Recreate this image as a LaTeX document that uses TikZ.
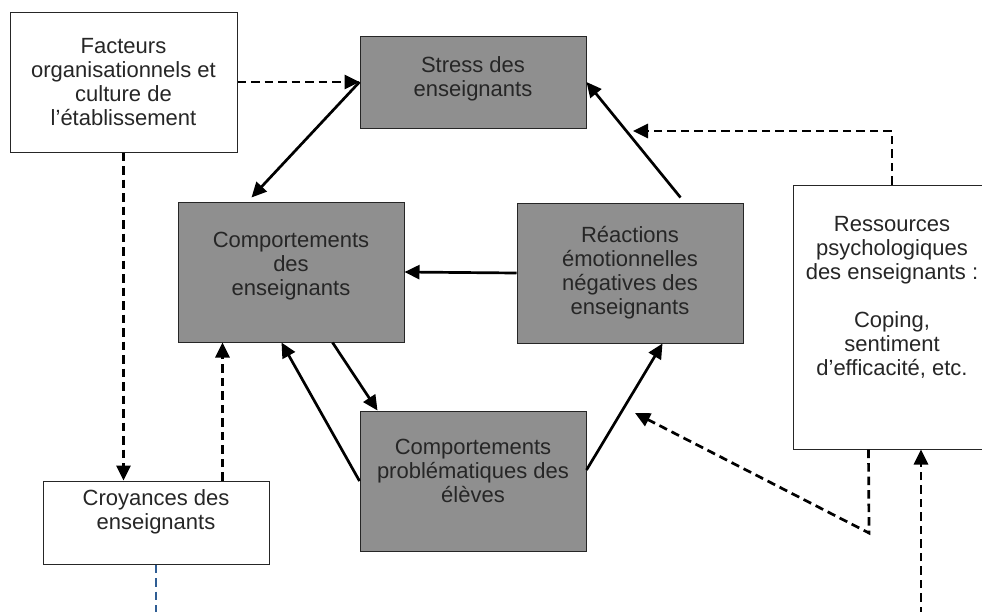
\documentclass[tikz,border=0pt]{standalone}
\usepackage{fontspec}
\setmainfont{Liberation Sans}
\usetikzlibrary{arrows.meta}
\definecolor{boxgray}{RGB}{143,143,143}
\definecolor{linkblue}{RGB}{47,93,148}
\begin{document}
\begin{tikzpicture}[x=1pt,y=-1pt,
  box/.style={draw=black!85, line width=1pt, rectangle, inner sep=0pt},
  graybox/.style={box, fill=boxgray},
  whitebox/.style={box, fill=white},
  txt/.style={align=center, inner sep=0pt, font=\fontsize{22}{24}\selectfont, text=black!85},
  link/.style={line width=2.7pt, -{Triangle[length=15pt,width=14pt]}},
  dlink/.style={link, dash pattern=on 8.5pt off 5pt},
  dline/.style={line width=2.7pt, dash pattern=on 8.5pt off 5pt},
]
\useasboundingbox (0,0) rectangle (982,611);
\clip (0,0) rectangle (982,611);

% boxes
\node[whitebox, minimum width=227pt, minimum height=140pt] (fact) at (123.5,82) {};
\node[graybox, minimum width=226pt, minimum height=92pt] (stress) at (473,82) {};
\node[graybox, minimum width=226pt, minimum height=140pt] (comp) at (291,272) {};
\node[graybox, minimum width=226pt, minimum height=140pt] (reac) at (630,273) {};
\node[graybox, minimum width=226pt, minimum height=140pt] (prob) at (473,481) {};
\node[whitebox, minimum width=226pt, minimum height=83pt] (croy) at (156,522.5) {};
\node[whitebox, minimum width=198pt, minimum height=264pt] (res) at (892,317) {};

% labels
\node[txt] (fact-t) at (fact.center) {Facteurs\\organisationnels et\\culture de\\l’établissement};
\node[txt] (stress-t) at ([yshift=3pt]stress.center) {Stress des\\enseignants};
\node[txt] (comp-t) at ([yshift=6pt]comp.center) {Comportements\\des\\enseignants};
\node[txt] (reac-t) at (reac.center) {Réactions\\émotionnelles\\négatives des\\enseignants};
\node[txt] (prob-t) at ([yshift=10pt]prob.center) {Comportements\\problématiques des\\élèves};
\node[txt] (croy-t) at ([yshift=11pt]croy.center) {Croyances des\\enseignants};
\node[txt] (res-t) at ([yshift=20pt]res.center) {Ressources\\psychologiques\\des enseignants :\\[24pt]Coping,\\sentiment\\d’efficacité, etc.};

% free ends of the dashed links
\coordinate (hitA) at (633,131);
\coordinate (bend) at (869,533);
\coordinate (hitB) at (635,413);
\coordinate (below) at (921,615);
\coordinate (blueend) at (156,615);

% solid links
\draw[link] (stress.west) -- ([xshift=74pt,yshift=4pt]comp.north west);
\draw[link] (reac.west) -- (comp.east);
\draw[link] ([xshift=164pt,yshift=5pt]reac.north west) -- (stress.east);
\draw[link] ([xshift=155pt]comp.south west) -- ([xshift=18pt]prob.north west);
\draw[link] (prob.west) -- ([xshift=104pt]comp.south west);
\draw[link] ([yshift=11pt]prob.east) -- ([xshift=146pt]reac.south west);

% dashed links
\draw[dlink] (fact.east) -- (stress.west);
\draw[dlink] (fact.south) -- (fact.south |- croy.north);
\draw[dlink] ([xshift=45pt]comp.south west |- croy.north) -- ([xshift=45pt]comp.south west);
\draw[dlink] (res.north) |- (hitA);
\draw[dlink] ([xshift=76pt]res.south west) -- (bend) -- (hitB);
\draw[dlink] (below) -- (below |- res.south);
\draw[dline, draw=linkblue, line width=2.4pt] (croy.south) -- (blueend);
\end{tikzpicture}
\end{document}
